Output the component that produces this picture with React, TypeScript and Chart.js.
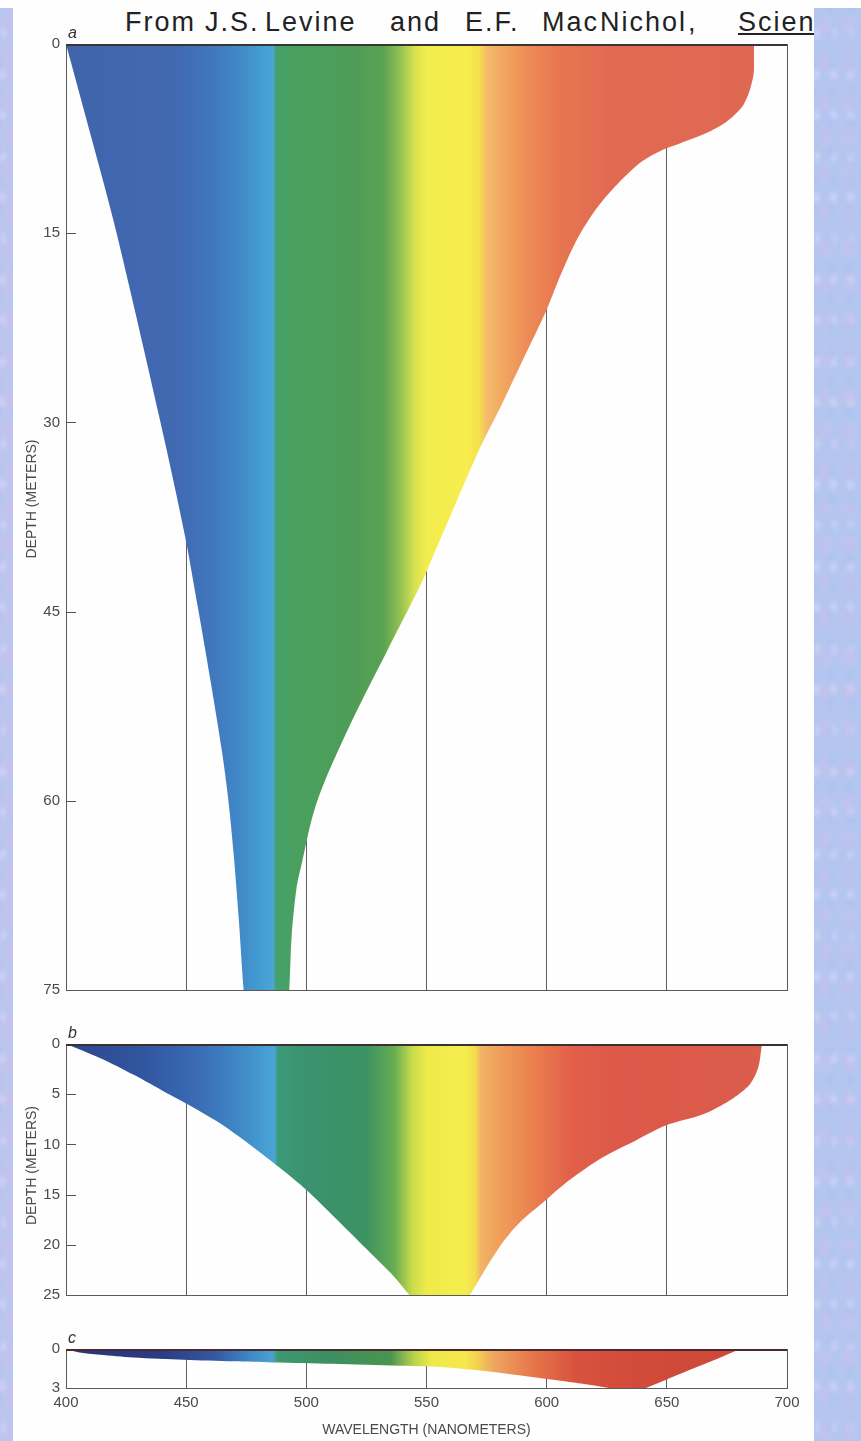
import React, { useEffect, useRef } from "react";
import { Chart, registerables } from "chart.js";

Chart.register(...registerables);

// ---------------- data ----------------
const wavelengthTicks = [400, 450, 500, 550, 600, 650, 700];

// panel a : wavelength window (nm) vs depth (m), 0-75 m
const panelAWavelength = [
  400, 410.8, 420.8, 439.1, 449.4, 455.0, 460.5, 464.9, 467.4, 469.7, 471.9, 473.9, 474.2,
  492.6, 492.9, 493.9, 496.0, 498.2, 502.2, 506.9, 519.4, 533.4, 548.0, 552.5, 562.2, 571.8,
  581.5, 591.2, 599.9, 604.5, 612.6, 620.9, 630.0, 639.7, 649.3, 655.1, 664.8, 674.5,
  682.1, 686.0, 686.3,
];
const panelADepth = [
  0, 7.6, 14.8, 29.8, 38.9, 44.8, 50.9, 56.1, 59.7, 64.1, 69.4, 75, 75,
  75, 75, 70.7, 66.8, 64.9, 61.5, 58.8, 53.5, 48.2, 42.7, 40.7, 36.4, 32.2,
  28.5, 24.6, 21.1, 18.9, 15.5, 13.0, 11.0, 9.3, 8.3, 7.9, 7.2, 6.2,
  4.75, 2.5, 0,
];
const panelADepthTicks = [0, 15, 30, 45, 60, 75];

// panel b : 0-25 m
const panelBWavelength = [
  400, 414.1, 428, 441.8, 447, 462.6, 476.4, 490.4, 500.3, 511.5, 525.4, 536.6, 542.9, 543.3,
  567.6, 568, 574.3, 581.3, 588.3, 599.4, 609.2, 623.2, 637.1, 649.7, 665.1, 676.3, 684.6, 688.1, 689.5, 689.9,
];
const panelBDepth = [
  0, 1.39, 3.05, 4.87, 5.53, 7.68, 10.0, 12.6, 14.6, 17.2, 20.5, 23.2, 25, 25,
  25, 25, 22.5, 19.9, 17.9, 15.6, 13.6, 11.3, 9.6, 8.1, 7.0, 5.6, 4.0, 2.3, 0.2, 0,
];
const panelBDepthTicks = [0, 5, 10, 15, 20, 25];

// panel c : 0-3 m
const panelCWavelength = [
  400, 405, 414, 428, 449, 470, 486, 511, 539, 550, 560, 575, 600, 615, 626, 626.4,
  640.9, 641.3, 650, 663, 674, 680.7,
];
const panelCDepth = [
  0, 0.25, 0.44, 0.65, 0.82, 0.95, 1.03, 1.13, 1.28, 1.33, 1.45, 1.72, 2.3, 2.67, 3, 3,
  3, 3, 2.34, 1.35, 0.51, 0,
];
const panelCDepthTicks = [0, 3];

// spectrum colour stops (wavelength, colour) per panel
const spectrumA: [number, string][] = [
  [400, "#4064ac"], [445, "#4169b2"], [462, "#4078be"], [474, "#408dca"], [483, "#46a0d5"],
  [486.3, "#4ba6d6"], [487.3, "#44a06c"], [494, "#4aa060"], [520, "#4e9d56"], [532, "#5aa252"],
  [539, "#92c052"], [545, "#d8e24e"], [550, "#f2ec4c"], [566, "#f7ee4e"], [572, "#f5e04e"],
  [575, "#f4bc68"], [582, "#f2a660"], [592, "#ed8c56"], [605, "#e77650"], [625, "#e26a52"],
  [700, "#df6854"],
];
const spectrumB: [number, string][] = [
  [400, "#2c4790"], [430, "#30549e"], [455, "#3a6cb4"], [472, "#3f88c6"], [484, "#48a0d4"],
  [487, "#4aa4d2"], [488, "#3c9a78"], [500, "#3a9270"], [525, "#3c9262"], [537, "#6aae52"],
  [544, "#c8dc4c"], [550, "#eeea4a"], [566, "#f5ee4e"], [570.5, "#f3da4e"], [572.5, "#f2b468"],
  [580, "#f0a05a"], [595, "#ea7e4e"], [610, "#e2604a"], [630, "#dd5848"], [700, "#db5e4c"],
];
const spectrumC: [number, string][] = [
  [400, "#27357a"], [440, "#2b3c84"], [462, "#3458a0"], [476, "#3f86c4"], [486, "#4aa2d2"],
  [488, "#3e9870"], [510, "#3d8e60"], [535, "#4a9450"], [545, "#b8d44c"], [552, "#eeea4a"],
  [566, "#f5e84c"], [572, "#f2cc52"], [578, "#eea660"], [595, "#e6744a"], [612, "#d8523e"],
  [640, "#d14a3a"], [700, "#cc4838"],
];

// ---------------- chart helpers ----------------
const TEXT = "#4a4a4a";
const FONT = "'Liberation Sans', Arial, sans-serif";

type Spec = {
  letter: string;
  wl: number[];
  depth: number[];
  depthTicks: number[];
  stops: [number, string][];
  top: number;
  height: number;
  padTop: number;
  padBottom: number;
  xHeight: number;
  showX: boolean;
  yTitleShift: number | null;
  topColor: string;
};

const decorPlugin = {
  id: "panelDecor",
  beforeDatasetsDraw(chart: any) {
    const { ctx, chartArea: ca, scales } = chart;
    const y = scales.y;
    ctx.save();
    ctx.strokeStyle = "#555";
    ctx.lineWidth = 1;
    y.ticks.forEach((t: any) => {
      const py = Math.round(y.getPixelForValue(t.value)) + 0.5;
      ctx.beginPath();
      ctx.moveTo(ca.left, py);
      ctx.lineTo(ca.left + 10, py);
      ctx.stroke();
    });
    ctx.restore();
  },
  afterDatasetsDraw(chart: any, _a: any, opts: any) {
    const { ctx, chartArea: ca } = chart;
    ctx.save();
    ctx.strokeStyle = "#5a5a5a";
    ctx.lineWidth = 1;
    const l = Math.round(ca.left) + 0.5;
    const t = Math.round(ca.top) + 0.5;
    ctx.strokeRect(l, t, Math.round(ca.right - ca.left), Math.round(ca.bottom - ca.top));
    ctx.strokeStyle = opts.topColor;
    ctx.lineWidth = 2;
    ctx.beginPath();
    ctx.moveTo(ca.left, Math.round(ca.top) + 1);
    ctx.lineTo(ca.right, Math.round(ca.top) + 1);
    ctx.stroke();
    ctx.fillStyle = "#333";
    ctx.font = `italic 16px ${FONT}`;
    ctx.textBaseline = "alphabetic";
    ctx.textAlign = "left";
    ctx.fillText(opts.letter, ca.left + 2, ca.top - 6);
    if (opts.yTitleShift !== null) {
      ctx.translate(32, (ca.top + ca.bottom) / 2 + opts.yTitleShift);
      ctx.rotate(-Math.PI / 2);
      ctx.font = `14px ${FONT}`;
      ctx.fillStyle = TEXT;
      ctx.textAlign = "center";
      ctx.textBaseline = "middle";
      ctx.fillText("DEPTH (METERS)", 0, 0);
    }
    ctx.restore();
  },
};

function buildConfig(spec: Spec): any {
  const gradient = (c: any) => {
    const chart = c.chart;
    if (!chart.chartArea) return "rgba(0,0,0,0)";
    const xs = chart.scales.x;
    const x0 = xs.getPixelForValue(400);
    const x1 = xs.getPixelForValue(700);
    const g = chart.ctx.createLinearGradient(x0, 0, x1, 0);
    spec.stops.forEach(([w, col]) => g.addColorStop((w - 400) / 300, col));
    return g;
  };
  return {
    type: "line",
    data: {
      datasets: [
        {
          data: spec.wl.map((w, i) => ({ x: w, y: spec.depth[i] })),
          fill: "origin",
          backgroundColor: gradient,
          borderWidth: 0,
          borderColor: "rgba(0,0,0,0)",
          pointRadius: 0,
          tension: 0.3,
        },
      ],
    },
    options: {
      animation: false,
      responsive: false,
      maintainAspectRatio: false,
      layout: { padding: { top: spec.padTop, right: 861 - 787, bottom: spec.padBottom, left: 0 } },
      plugins: {
        legend: { display: false },
        tooltip: { enabled: false },
        panelDecor: { letter: spec.letter, topColor: spec.topColor, yTitleShift: spec.yTitleShift },
      },
      scales: {
        x: {
          type: "linear",
          min: 400,
          max: 700,
          afterBuildTicks: (s: any) => {
            s.ticks = wavelengthTicks.map((v) => ({ value: v }));
          },
          ticks: {
            display: spec.showX,
            font: { family: FONT, size: 15 },
            color: TEXT,
            padding: 6,
            maxRotation: 0,
          },
          grid: { color: "#606060", lineWidth: 1, drawTicks: false },
          border: { display: false },
          title: {
            display: spec.showX,
            text: "WAVELENGTH (NANOMETERS)",
            font: { family: FONT, size: 14 },
            color: TEXT,
            padding: { top: 0, bottom: 2 },
          },
          afterFit: (s: any) => {
            s.height = spec.xHeight;
          },
        },
        y: {
          type: "linear",
          reverse: true,
          min: 0,
          max: spec.depthTicks[spec.depthTicks.length - 1],
          afterBuildTicks: (s: any) => {
            s.ticks = spec.depthTicks.map((v) => ({ value: v }));
          },
          ticks: { font: { family: FONT, size: 15 }, color: TEXT, padding: 6 },
          grid: { display: false, drawTicks: false },
          border: { display: false },
          afterFit: (s: any) => {
            s.width = 66;
          },
        },
      },
    },
    plugins: [decorPlugin],
  };
}

function Panel({ spec }: { spec: Spec }) {
  const ref = useRef<HTMLCanvasElement | null>(null);
  useEffect(() => {
    const chart = new Chart(ref.current as HTMLCanvasElement, buildConfig(spec));
    return () => chart.destroy();
  }, []);
  return (
    <canvas
      ref={ref}
      width={861}
      height={spec.height}
      style={{ position: "absolute", left: 0, top: spec.top, width: 861, height: spec.height }}
    />
  );
}

const specs: Spec[] = [
  {
    letter: "a", wl: panelAWavelength, depth: panelADepth, depthTicks: panelADepthTicks, stops: spectrumA,
    top: 0, height: 1005, padTop: 44, padBottom: 14, xHeight: 0, showX: false, yTitleShift: -18, topColor: "#3a3535",
  },
  {
    letter: "b", wl: panelBWavelength, depth: panelBDepth, depthTicks: panelBDepthTicks, stops: spectrumB,
    top: 1010, height: 300, padTop: 34, padBottom: 15, xHeight: 0, showX: false, yTitleShift: -4, topColor: "#3a3032",
  },
  {
    letter: "c", wl: panelCWavelength, depth: panelCDepth, depthTicks: panelCDepthTicks, stops: spectrumC,
    top: 1320, height: 121, padTop: 29, padBottom: 0, xHeight: 53, showX: true, yTitleShift: null, topColor: "#4a2a2e",
  },
];

const handWords: [string, number][] = [
  ["From", 125], ["J.S.", 205], ["Levine", 265], ["and", 390], ["E.F.", 465],
  ["Mac", 542], ["Nichol", 600], [",", 688], ["Science", 738],
];

const strip = (base: string): React.CSSProperties => ({
  position: "absolute",
  top: 8,
  bottom: 0,
  background:
    "radial-gradient(ellipse 9px 14px, rgba(212,188,236,0.45), rgba(212,188,236,0)) 0 0 / 23px 37px," +
    "radial-gradient(ellipse 7px 10px, rgba(165,192,244,0.5), rgba(165,192,244,0)) 7px 13px / 19px 29px," +
    "radial-gradient(ellipse 6px 8px, rgba(230,222,248,0.45), rgba(230,222,248,0)) 11px 5px / 17px 41px," +
    base,
  zIndex: 2,
});

export default function App() {
  return (
    <div
      style={{
        position: "absolute",
        left: 0,
        top: 0,
        width: 861,
        height: 1441,
        background: "#fefefe",
        overflow: "hidden",
      }}
    >
      {handWords.map(([w, x]) => (
        <div
          key={w + x}
          style={{
            position: "absolute",
            left: x,
            top: 9,
            fontFamily: FONT,
            fontSize: 27,
            lineHeight: "27px",
            letterSpacing: 2,
            color: "#222",
            whiteSpace: "nowrap",
            textDecoration: w === "Science" ? "underline" : "none",
          }}
        >
          {w}
        </div>
      ))}
      {specs.map((s) => (
        <Panel key={s.letter} spec={s} />
      ))}
      <div style={{ ...strip("#bcc5ee"), left: 0, width: 13 }} />
      <div style={{ ...strip("#b4c6ef"), left: 814, width: 47 }} />
    </div>
  );
}
